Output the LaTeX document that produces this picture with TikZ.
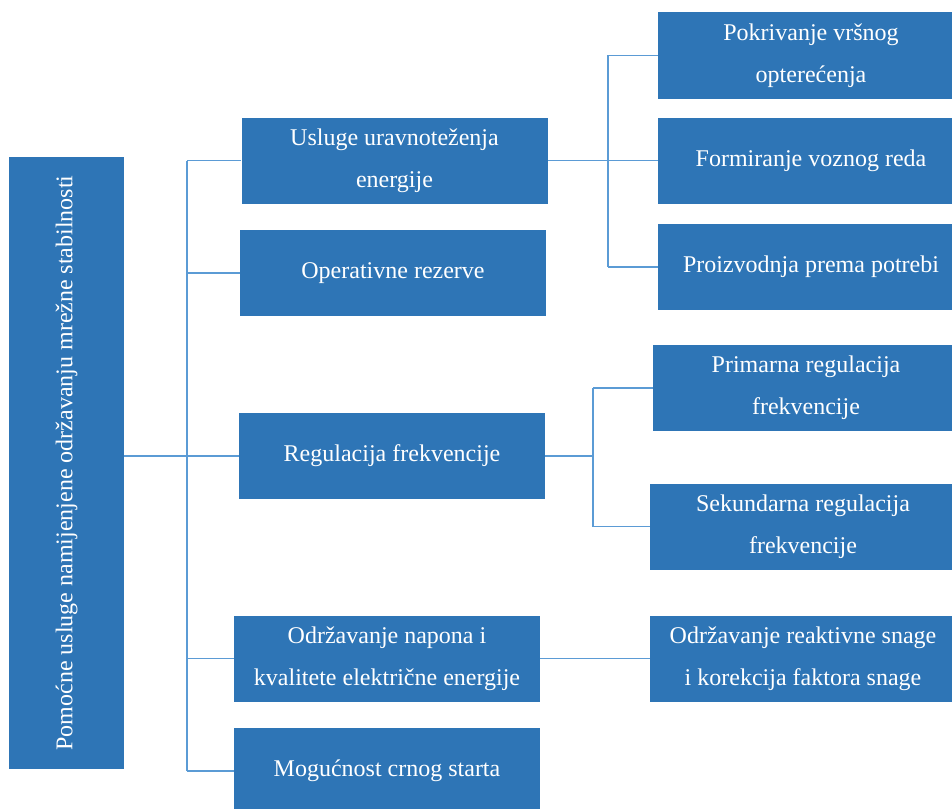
\documentclass[tikz,border=0pt]{standalone}
\usepackage{fontspec}
\setmainfont{Liberation Serif}
\definecolor{boxblue}{HTML}{2E75B6}
\definecolor{lineblue}{HTML}{5B9BD5}
\tikzset{
  box/.style={fill=boxblue,text=white,minimum width=306pt,minimum height=86pt,
    inner sep=0pt,align=center,font=\fontsize{24}{42}\selectfont},
  rootbox/.style={box,rotate=90,minimum width=612pt,minimum height=115pt},
  link/.style={lineblue,line width=1.2pt}
}

\begin{document}
\begin{tikzpicture}[x=1pt,y=-1pt]
  \useasboundingbox (0,0) rectangle (952,808);
  \clip (0,0) rectangle (952,808);
  % root
  \node[rootbox] (root) at (66.5,463) {Pomoćne usluge namijenjene održavanju mrežne stabilnosti};
  % first level
  \node[box] (bal) at (394.5,160.5) {Usluge uravnoteženja\\energije};
  \node[box] (res) at (393,273) {Operativne rezerve};
  \node[box] (freq) at (392,456) {Regulacija frekvencije};
  \node[box] (volt) at (387,658.5) {Održavanje napona i\\kvalitete električne energije};
  \node[box] (black) at (387,771) {Mogućnost crnog starta};
  % second level
  \node[box] (peak) at (811,55.5) {Pokrivanje vršnog\\opterećenja};
  \node[box] (sched) at (811,160.5) {Formiranje voznog reda};
  \node[box] (dem) at (811,267) {Proizvodnja prema potrebi};
  \node[box] (prim) at (806,388) {Primarna regulacija\\frekvencije};
  \node[box] (sec) at (803,526.5) {Sekundarna regulacija\\frekvencije};
  \node[box] (react) at (803,658.5) {Održavanje reaktivne snage\\i korekcija faktora snage};
  % connectors
  \coordinate (trunk) at (187,0);
  \coordinate (fork1) at (608,0);
  \coordinate (fork2) at (593,0);
  \draw[link] (root.south |- freq) -- (freq.west);
  \draw[link] (bal.west -| trunk) -- (black.west -| trunk);
  \foreach \n in {bal,res,volt,black}
    \draw[link] (\n.west -| trunk) -- (\n.west);
  \draw[link] (bal.east) -- (sched.west);
  \draw[link] (peak.west -| fork1) -- (dem.west -| fork1);
  \draw[link] (peak.west -| fork1) -- (peak.west);
  \draw[link] (dem.west -| fork1) -- (dem.west);
  \draw[link] (freq.east) -- (freq.east -| fork2);
  \draw[link] (prim.west -| fork2) -- (sec.west -| fork2);
  \draw[link] (prim.west -| fork2) -- (prim.west);
  \draw[link] (sec.west -| fork2) -- (sec.west);
  \draw[link] (volt.east) -- (react.west);
\end{tikzpicture}
\end{document}
